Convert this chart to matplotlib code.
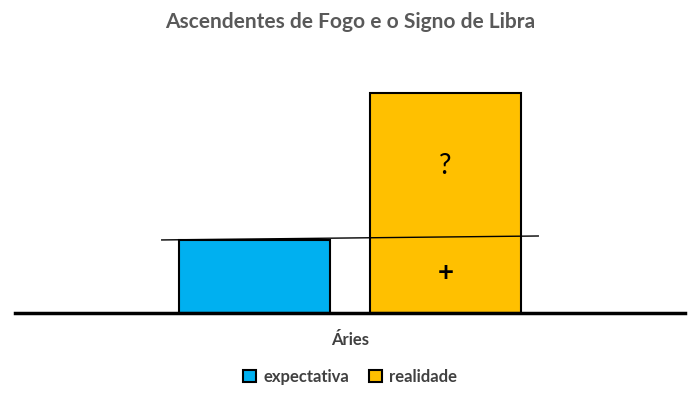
import matplotlib
matplotlib.use("Agg")
import matplotlib.pyplot as plt

categories = ["Áries"]
series = ["expectativa", "realidade"]
values = [1.0, 3.0]
colors = ["#00B0F0", "#FFC000"]
offsets = [-0.1425, 0.1425]
line_x = [-0.281, 0.281]
line_y = [0.996, 1.05]

plt.rcParams['font.family'] = ['Lato', 'DejaVu Sans']
fig = plt.figure(figsize=(7, 4), dpi=100)
ax = fig.add_axes([15/700, 87/400, 670/700, 256.7/400])
for v, c, o, s in zip(values, colors, offsets, series):
    ax.bar(o, v, width=0.226, color=c, edgecolor="black", linewidth=1.5, label=s)
ax.plot(line_x, line_y, color="black", linewidth=1)
ax.text(offsets[1], 2.0, "?", ha="center", va="center", fontsize=20)
ax.text(offsets[1], 0.55, "+", ha="center", va="center", fontsize=20, fontweight="bold")
ax.set_xlim(-0.5, 0.5)
ax.set_ylim(0, 3.5)
ax.set_xticks([0])
ax.set_xticklabels(categories, fontsize=12, fontweight="bold", color="#404040")
ax.tick_params(axis="x", length=0, pad=14)
ax.set_yticks([])
for sp in ["top", "right", "left"]:
    ax.spines[sp].set_visible(False)
ax.spines["bottom"].set_linewidth(2.5)
fig.suptitle("Ascendentes de Fogo e o Signo de Libra", y=0.97, fontsize=15,
             fontweight="bold", color="#595959")
fig.legend(loc="center", bbox_to_anchor=(0.5, 0.058), ncol=2, frameon=False,
           fontsize=12, prop={"weight": "bold", "size": 12}, handlelength=0.8,
           handleheight=0.8, columnspacing=1.2, handletextpad=0.4, labelcolor="#404040")
fig.savefig("out.png", dpi=100)
